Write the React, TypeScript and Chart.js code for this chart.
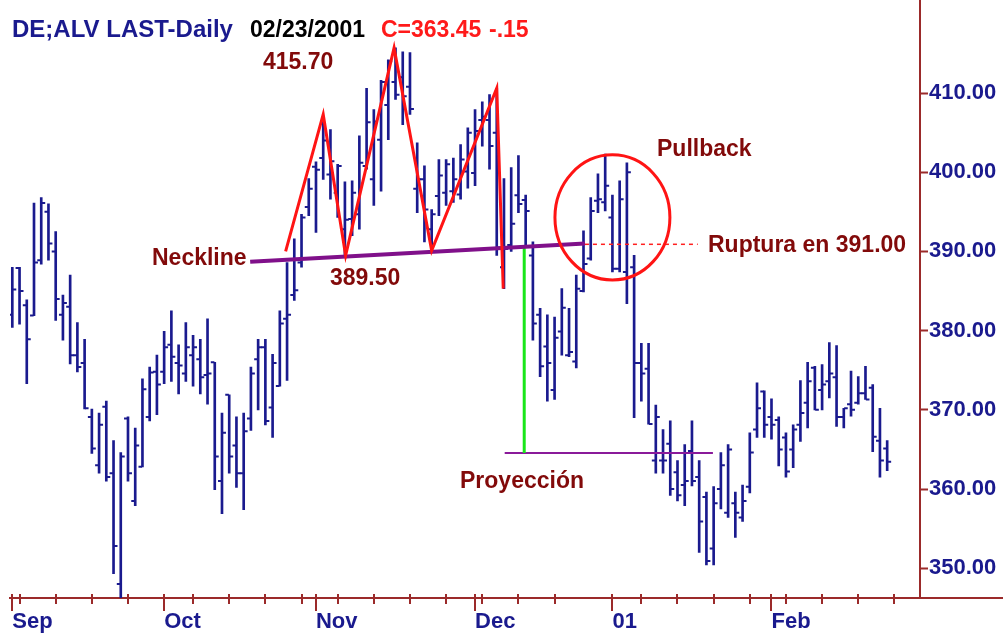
import React, { useEffect, useRef } from 'react';
import { Chart, registerables } from 'chart.js';

Chart.register(...registerables);

// ---- Daily OHLC data, DE;ALV (Sep 2000 - Feb 23, 2001), one entry per trading day ----
const opens = [
  382.0, 387.9, 383.2, 381.9, 388.9, 395.0, 390.0, 382.0, 383.0, 376.9,
  375.9, 369.1, 363.0, 370.4, 362.0, 348.0, 368.9, 358.5, 362.8, 369.1,
  374.8, 374.8, 378.2, 375.9, 374.6, 376.9, 376.4, 374.4, 376.0, 361.0,
  371.9, 365.5, 362.0, 368.9, 376.4, 377.9, 370.3, 373.0, 381.5, 384.5,
  388.6, 395.6, 400.7, 401.8, 399.7, 397.4, 392.8, 394.1, 394.7, 400.8,
  399.1, 404.1, 408.5, 411.4, 412.0, 410.8, 397.9, 399.1, 392.8, 397.0,
  397.4, 397.6, 397.2, 400.1, 399.9, 406.6, 406.6, 405.0, 388.0, 390.8,
  397.1, 396.5, 389.5, 382.0, 378.0, 372.5, 379.9, 376.9, 376.1, 385.0,
  389.1, 396.4, 396.2, 394.3, 387.8, 387.4, 388.0, 375.9, 375.2, 363.6,
  363.6, 365.7, 362.1, 360.5, 364.8, 361.5, 359.0, 352.5, 360.0, 357.0,
  358.2, 356.4, 360.3, 367.5, 372.3, 369.1, 368.7, 366.5, 365.0, 368.1,
  370.9, 375.3, 372.5, 373.6, 374.1, 369.1, 370.7, 370.9, 372.1, 372.8,
  366.1, 365.1,
];
const highs = [
  388.0, 388.0, 383.9, 396.1, 396.8, 396.0, 392.5, 384.5, 387.0, 381.0,
  378.9, 370.1, 369.6, 371.1, 366.1, 364.6, 369.1, 367.7, 373.9, 375.4,
  376.9, 379.9, 382.5, 378.2, 381.0, 379.4, 378.9, 381.5, 376.0, 369.6,
  371.9, 369.1, 369.6, 375.4, 378.9, 378.9, 377.0, 382.5, 388.6, 391.6,
  394.7, 399.2, 401.3, 407.0, 405.4, 401.0, 398.8, 398.9, 404.6, 410.6,
  407.9, 411.6, 414.2, 415.7, 415.2, 415.1, 403.7, 400.8, 395.3, 401.6,
  401.6, 401.8, 403.5, 405.6, 407.9, 408.9, 409.8, 410.6, 399.2, 400.6,
  402.1, 397.1, 391.2, 382.8, 382.0, 381.7, 385.3, 382.8, 387.0, 392.6,
  396.8, 399.8, 402.3, 397.1, 398.9, 401.2, 389.5, 378.4, 378.4, 370.6,
  367.5, 368.6, 363.6, 365.6, 368.6, 363.6, 359.6, 360.3, 364.6, 365.6,
  359.6, 360.5, 367.1, 373.4, 372.4, 371.4, 369.1, 367.1, 368.1, 373.7,
  376.0, 375.5, 375.7, 378.5, 378.1, 370.2, 374.9, 374.2, 375.5, 373.2,
  370.2, 366.1,
];
const lows = [
  380.4, 380.8, 373.3, 381.9, 388.4, 388.9, 381.3, 378.8, 375.8, 374.8,
  370.1, 364.5, 362.0, 361.0, 349.3, 346.0, 361.0, 357.9, 362.8, 368.6,
  369.4, 373.3, 373.6, 372.0, 373.6, 373.0, 372.0, 370.7, 359.9, 356.9,
  362.0, 360.2, 357.4, 367.4, 370.0, 368.1, 366.5, 373.0, 373.7, 383.8,
  388.0, 394.5, 392.4, 399.1, 396.6, 394.3, 389.6, 392.0, 392.8, 400.4,
  395.8, 397.6, 404.1, 409.2, 406.0, 407.3, 394.9, 391.2, 390.3, 394.5,
  395.8, 396.2, 396.6, 398.0, 398.3, 403.3, 400.4, 389.5, 385.3, 390.0,
  394.9, 390.7, 378.8, 374.2, 371.1, 371.3, 376.9, 376.7, 375.3, 384.9,
  388.9, 394.9, 395.1, 387.4, 387.4, 383.4, 369.0, 371.1, 368.2, 362.0,
  362.0, 359.2, 358.5, 357.9, 360.4, 352.0, 350.4, 350.4, 357.5, 356.4,
  353.9, 355.9, 359.5, 366.5, 366.5, 366.3, 362.9, 361.5, 362.7, 366.0,
  367.7, 370.0, 370.0, 371.5, 367.9, 367.7, 369.2, 370.7, 371.3, 364.7,
  361.5, 362.3,
];
const closes = [
  385.2, 385.0, 378.9, 388.6, 396.1, 391.0, 384.0, 383.5, 376.9, 375.4,
  370.2, 365.1, 368.1, 361.5, 352.8, 364.1, 362.0, 365.5, 372.6, 374.7,
  373.2, 377.9, 376.7, 375.6, 377.9, 377.9, 374.1, 374.6, 364.1, 367.1,
  364.1, 362.0, 367.3, 374.6, 377.9, 368.6, 375.9, 380.9, 382.0, 385.1,
  394.3, 397.9, 400.3, 404.0, 401.4, 400.8, 394.0, 397.4, 401.2, 406.3,
  406.4, 411.4, 414.0, 409.8, 409.6, 408.0, 399.1, 395.3, 394.7, 399.6,
  401.0, 399.1, 401.6, 405.0, 405.2, 407.0, 403.3, 390.5, 390.3, 393.5,
  396.0, 395.1, 380.9, 375.5, 375.9, 379.1, 382.9, 377.3, 385.3, 388.4,
  395.1, 396.6, 398.3, 387.8, 396.6, 400.0, 375.9, 374.6, 368.2, 369.1,
  363.6, 360.0, 359.2, 361.0, 361.0, 355.9, 350.9, 358.2, 363.0, 365.0,
  357.0, 358.5, 364.6, 370.2, 368.1, 368.1, 365.0, 362.2, 367.5, 369.6,
  373.6, 370.0, 373.2, 374.6, 369.1, 370.2, 370.0, 372.1, 371.3, 366.6,
  363.6, 363.45,
];

// ---- axis ticks (trading-day index) ----
const monthTicks = [0, 21, 42, 64, 83, 105];
const monthLabels = ['Sep', 'Oct', 'Nov', 'Dec', '01', 'Feb'];
const weekTicks = [1, 6, 11, 16, 25, 30, 35, 40, 45, 50, 55, 60, 65, 70, 75, 87, 92, 97, 102, 107, 112, 117, 122];
const priceTicks = [350, 360, 370, 380, 390, 400, 410];

// ---- chart-pattern annotations (trading-day index / price) ----
const patternX = [37.8, 43.0, 46.1, 52.8, 58.0, 67.0, 67.9];
const patternY = [390.0, 407.3, 389.5, 415.7, 390.1, 410.6, 385.3];
const necklineX = [32.9, 79.2];
const necklineY = [388.7, 391.0];
const breakX = [79.2, 94.8];
const breakY = [390.9, 390.9];
const projX = [70.8, 70.8];
const projY = [390.7, 364.55];
const targetX = [68.1, 96.9];
const targetY = [364.55, 364.55];
const pullbackCenter = [83.0, 394.3];
const pullbackRadius = [7.95, 7.9];

const NAVY = '#1a1a8e';
const AXIS = '#9b2a2a';
const DARKRED = '#820a0a';
const FONT = '"Liberation Sans", Arial, sans-serif';

const pts = (xs: number[], ys: number[]) => xs.map((x, i) => ({ x, y: ys[i] }));

const decorations = {
  id: 'decorations',
  afterDatasetsDraw(chart: any) {
    const { ctx, scales } = chart;
    const x = scales.x;
    const y = scales.y;
    ctx.save();
    // Pullback circle
    const cx = x.getPixelForValue(pullbackCenter[0]);
    const cy = y.getPixelForValue(pullbackCenter[1]);
    const rx = x.getPixelForValue(pullbackCenter[0] + pullbackRadius[0]) - cx;
    const ry = cy - y.getPixelForValue(pullbackCenter[1] + pullbackRadius[1]);
    ctx.beginPath();
    ctx.ellipse(cx, cy, rx, ry, 0, 0, Math.PI * 2);
    ctx.strokeStyle = '#ff1414';
    ctx.lineWidth = 3;
    ctx.stroke();
    ctx.restore();
  },
  afterDraw(chart: any) {
    const { ctx, scales, width } = chart;
    const x = scales.x;
    const y = scales.y;
    const base = x.top;
    ctx.save();
    // extend axis lines to the canvas edges
    ctx.strokeStyle = AXIS;
    ctx.lineWidth = 2;
    ctx.beginPath();
    ctx.moveTo(x.right, base);
    ctx.lineTo(width, base);
    ctx.moveTo(y.left, y.top);
    ctx.lineTo(y.left, 0);
    ctx.stroke();
    // tick marks
    ctx.lineWidth = 2;
    weekTicks.forEach((t) => {
      const px = Math.round(x.getPixelForValue(t));
      ctx.beginPath();
      ctx.moveTo(px, base - 4);
      ctx.lineTo(px, base + 6);
      ctx.stroke();
    });
    monthTicks.forEach((t) => {
      const px = Math.round(x.getPixelForValue(t));
      ctx.beginPath();
      ctx.moveTo(px, base - 4);
      ctx.lineTo(px, base + 13);
      ctx.stroke();
    });

    // texts
    ctx.textBaseline = 'alphabetic';
    ctx.textAlign = 'left';
    ctx.font = `bold 24px ${FONT}`;
    ctx.fillStyle = NAVY;
    ctx.fillText('DE;ALV LAST-Daily', 12, 37);
    ctx.font = `bold 23px ${FONT}`;
    ctx.fillStyle = '#000000';
    ctx.fillText('02/23/2001', 250, 37);
    ctx.fillStyle = '#ff1a1a';
    ctx.fillText('C=363.45', 381, 37);
    ctx.fillText('-.15', 489, 37);

    ctx.fillStyle = DARKRED;
    ctx.fillText('415.70', 263, 69);
    ctx.fillText('Neckline', 152, 265);
    ctx.fillText('389.50', 330, 285);
    ctx.fillText('Pullback', 657, 156);
    ctx.fillText('Ruptura en 391.00', 708, 252);
    ctx.fillText('Proyección', 460, 488);
    ctx.restore();
  },
};

export default function App() {
  const canvasRef = useRef<HTMLCanvasElement | null>(null);

  useEffect(() => {
    if (!canvasRef.current) return;
    const idx = opens.map((_, i) => i);
    const lineBase = { pointRadius: 0, tension: 0, fill: false, order: 1 };
    const chart = new Chart(canvasRef.current, {
      type: 'bar',
      data: {
        datasets: [
          { ...lineBase, type: 'line', label: 'Patrón', data: pts(patternX, patternY), borderColor: '#ff1414', borderWidth: 3 },
          { ...lineBase, type: 'line', label: 'Neckline', data: pts(necklineX, necklineY), borderColor: '#80108a', borderWidth: 4 },
          { ...lineBase, type: 'line', label: 'Ruptura', data: pts(breakX, breakY), borderColor: '#ff2020', borderWidth: 1.5, borderDash: [4, 4] },
          { ...lineBase, type: 'line', label: 'Proyección', data: pts(projX, projY), borderColor: '#19e619', borderWidth: 3 },
          { ...lineBase, type: 'line', label: 'Objetivo', data: pts(targetX, targetY), borderColor: '#8a1a9a', borderWidth: 2 },
          {
            type: 'bar',
            label: 'High-Low',
            data: idx.map((i) => ({ x: i, y: [lows[i], highs[i]] })),
            backgroundColor: NAVY,
            borderWidth: 0,
            barThickness: 2,
            grouped: false,
            order: 10,
          },
          {
            type: 'scatter',
            label: 'Open',
            data: idx.map((i) => ({ x: i - 0.3, y: opens[i] })),
            pointStyle: 'line',
            pointRadius: 1.8,
            pointHoverRadius: 1.8,
            pointBorderWidth: 2,
            borderWidth: 2,
            borderColor: NAVY,
            pointBorderColor: NAVY,
            backgroundColor: NAVY,
            order: 9,
          },
          {
            type: 'scatter',
            label: 'Close',
            data: idx.map((i) => ({ x: i + 0.3, y: closes[i] })),
            pointStyle: 'line',
            pointRadius: 1.8,
            pointHoverRadius: 1.8,
            pointBorderWidth: 2,
            borderWidth: 2,
            borderColor: NAVY,
            pointBorderColor: NAVY,
            backgroundColor: NAVY,
            order: 9,
          },
        ] as any,
      },
      options: {
        responsive: false,
        animation: false,
        events: [],
        layout: { padding: { left: 10, top: 0, right: 0, bottom: 0 } },
        plugins: {
          legend: { display: false },
          tooltip: { enabled: false },
          title: { display: false },
        },
        scales: {
          x: {
            type: 'linear',
            position: 'bottom',
            min: -0.32,
            max: 125.54,
            offset: false,
            grid: { display: false, drawTicks: false, offset: false },
            border: { display: true, color: AXIS, width: 2 },
            afterBuildTicks: (scale: any) => {
              scale.ticks = monthTicks.map((v) => ({ value: v }));
            },
            afterFit: (scale: any) => {
              scale.height = 35;
              scale.paddingLeft = 0;
              scale.paddingRight = 0;
            },
            ticks: {
              autoSkip: false,
              maxRotation: 0,
              align: 'start',
              padding: 11,
              color: NAVY,
              font: { family: FONT, size: 22, weight: 'bold' },
              callback: (v: any) => {
                const k = monthTicks.indexOf(Number(v));
                return k >= 0 ? monthLabels[k] : '';
              },
            },
          },
          y: {
            type: 'linear',
            position: 'right',
            min: 346.236,
            max: 421.27,
            grid: { drawOnChartArea: false, drawTicks: true, tickLength: 8, tickColor: AXIS, tickWidth: 2 },
            border: { display: true, color: AXIS, width: 2 },
            afterBuildTicks: (scale: any) => {
              scale.ticks = priceTicks.map((v) => ({ value: v }));
            },
            afterFit: (scale: any) => {
              scale.width = 83;
              scale.paddingTop = 0;
              scale.paddingBottom = 0;
            },
            ticks: {
              padding: 1,
              color: NAVY,
              font: { family: FONT, size: 22, weight: 'bold' },
              callback: (v: any) => Number(v).toFixed(2),
            },
          },
        },
      } as any,
      plugins: [decorations],
    });
    return () => chart.destroy();
  }, []);

  return (
    <div style={{ position: 'absolute', left: 0, top: 0, width: 1003, height: 633, background: '#ffffff' }}>
      <canvas ref={canvasRef} width={1003} height={633} style={{ display: 'block' }} />
    </div>
  );
}
